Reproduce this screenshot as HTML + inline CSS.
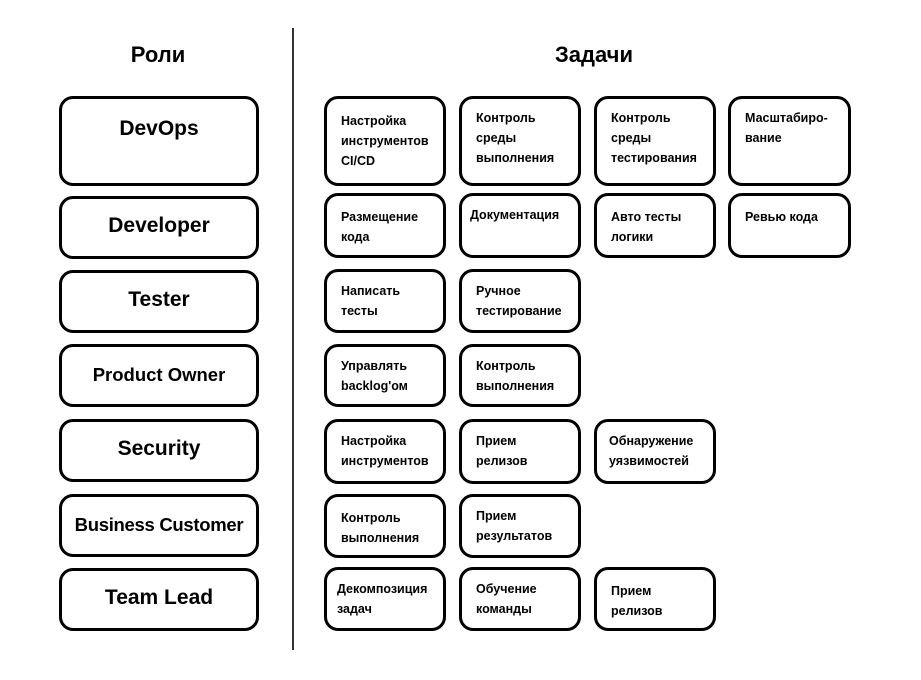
<!DOCTYPE html>
<html><head><meta charset="utf-8"><style>
body{margin:0;background:#fff;width:921px;height:680px;position:relative;overflow:hidden;font-family:"Liberation Sans","DejaVu Sans",sans-serif;font-weight:bold;color:#000}
.b{position:absolute;box-sizing:border-box;border:3.5px solid #000;border-radius:14px;background:#fff}
.r{text-align:center;font-size:21px}
.t{font-size:12.5px;line-height:20px;padding:9px 0 0 14px;white-space:nowrap}
.h{position:absolute;font-size:22px;text-align:center;width:200px}
</style></head><body>
<div class="h" style="left:58px;top:42px">Роли</div>
<div class="h" style="left:494px;top:42px">Задачи</div>
<div style="position:absolute;left:292px;top:28px;width:2px;height:622px;background:#333"></div>

<div class="b r" style="left:59px;top:96px;width:200px;height:90px;padding-top:18px">DevOps</div>
<div class="b r" style="left:59px;top:196px;width:200px;height:63px;padding-top:15px">Developer</div>
<div class="b r" style="left:59px;top:270px;width:200px;height:63px;padding-top:15px">Tester</div>
<div class="b r" style="left:59px;top:344px;width:200px;height:63px;padding-top:17px;font-size:18.5px">Product Owner</div>
<div class="b r" style="left:59px;top:419px;width:200px;height:63px;padding-top:15px">Security</div>
<div class="b r" style="left:59px;top:494px;width:200px;height:63px;padding-top:17px;font-size:18.5px;letter-spacing:-0.3px">Business Customer</div>
<div class="b r" style="left:59px;top:568px;width:200px;height:63px;padding-top:15px">Team Lead</div>

<div class="b t" style="left:324px;top:96px;width:122px;height:90px;padding-top:12px">Настройка<br>инструментов<br>CI/CD</div>
<div class="b t" style="left:459px;top:96px;width:122px;height:90px">Контроль<br>среды<br>выполнения</div>
<div class="b t" style="left:594px;top:96px;width:122px;height:90px">Контроль<br>среды<br>тестирования</div>
<div class="b t" style="left:728px;top:96px;width:123px;height:90px">Масштабиро-<br>вание</div>

<div class="b t" style="left:324px;top:193px;width:122px;height:65px;padding-top:11px">Размещение<br>кода</div>
<div class="b t" style="left:459px;top:193px;width:122px;height:65px;padding-left:8px">Документация</div>
<div class="b t" style="left:594px;top:193px;width:122px;height:65px;padding-top:11px">Авто тесты<br>логики</div>
<div class="b t" style="left:728px;top:193px;width:123px;height:65px;padding-top:11px">Ревью кода</div>

<div class="b t" style="left:324px;top:269px;width:122px;height:64px">Написать<br>тесты</div>
<div class="b t" style="left:459px;top:269px;width:122px;height:64px">Ручное<br>тестирование</div>

<div class="b t" style="left:324px;top:344px;width:122px;height:63px">Управлять<br>backlog'ом</div>
<div class="b t" style="left:459px;top:344px;width:122px;height:63px">Контроль<br>выполнения</div>

<div class="b t" style="left:324px;top:419px;width:122px;height:65px">Настройка<br>инструментов</div>
<div class="b t" style="left:459px;top:419px;width:122px;height:65px">Прием<br>релизов</div>
<div class="b t" style="left:594px;top:419px;width:122px;height:65px;padding-left:12px">Обнаружение<br>уязвимостей</div>

<div class="b t" style="left:324px;top:494px;width:122px;height:64px;padding-top:11px">Контроль<br>выполнения</div>
<div class="b t" style="left:459px;top:494px;width:122px;height:64px">Прием<br>результатов</div>

<div class="b t" style="left:324px;top:567px;width:122px;height:64px;padding-left:10px">Декомпозиция<br>задач</div>
<div class="b t" style="left:459px;top:567px;width:122px;height:64px">Обучение<br>команды</div>
<div class="b t" style="left:594px;top:567px;width:122px;height:64px;padding-top:11px">Прием<br>релизов</div>
</body></html>
